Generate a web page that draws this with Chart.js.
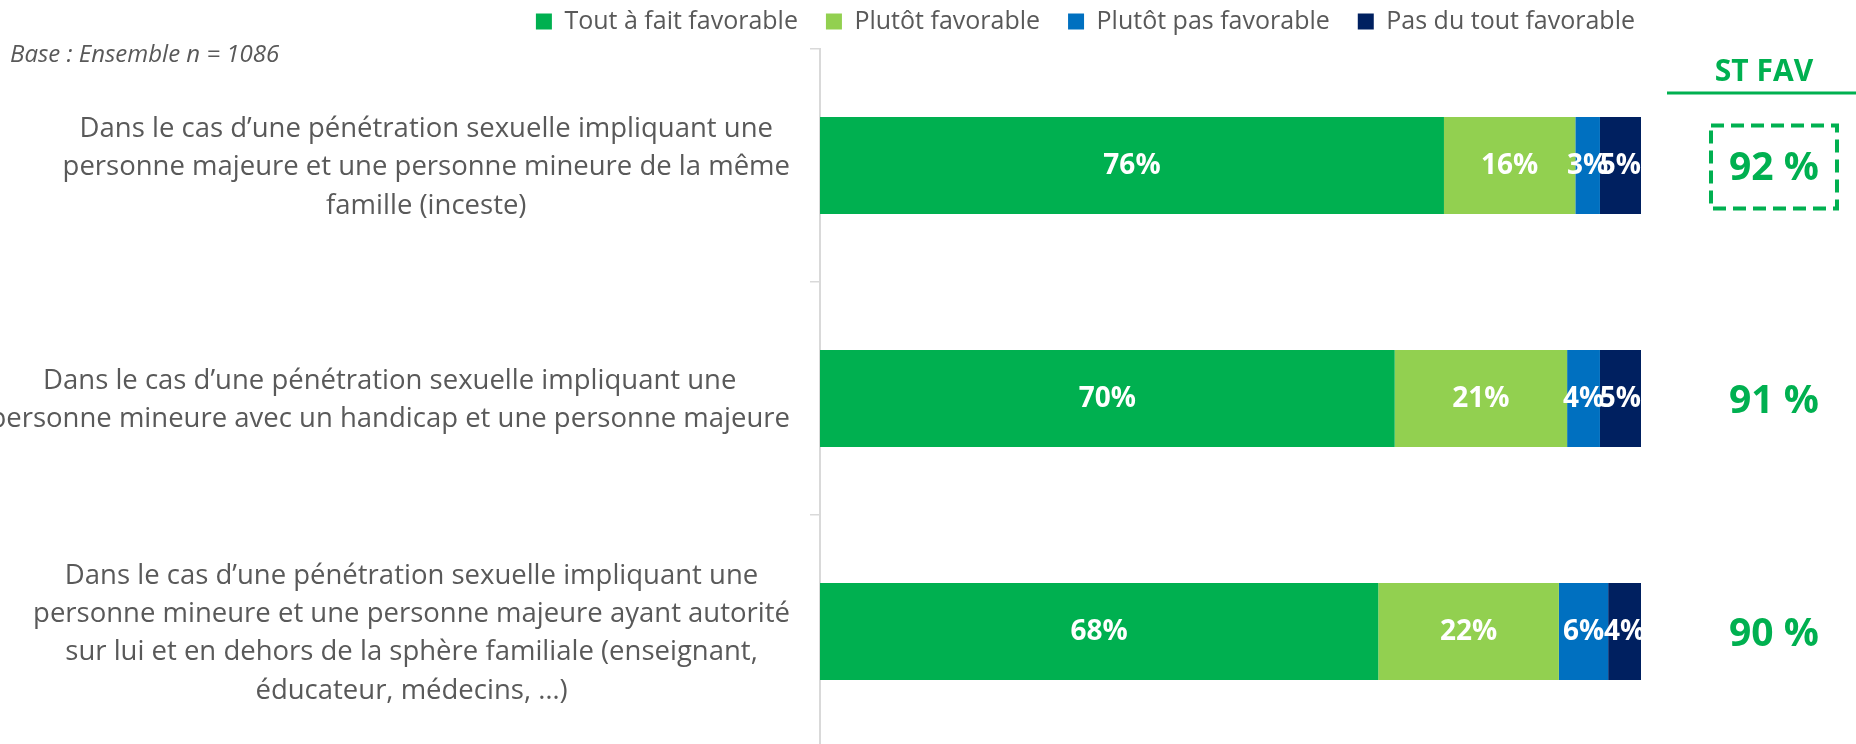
<!DOCTYPE html>
<html>
<head>
<meta charset="utf-8">
<title>ST FAV</title>
<script src="https://cdn.jsdelivr.net/npm/chart.js"></script>
<style>
  html, body { margin: 0; padding: 0; background: #fff; overflow: hidden; }
  #wrap { position: relative; width: 1856px; height: 752px; }
</style>
</head>
<body>
<div id="wrap"><canvas id="favChart"></canvas></div>
<script>
// categories (one array of lines per bar)
const categories = [
  ['Dans le cas d’une pénétration sexuelle impliquant une', 'personne majeure et une personne mineure de la même', 'famille (inceste)'],
  ['Dans le cas d’une pénétration sexuelle impliquant une', 'personne mineure avec un handicap et une personne majeure'],
  ['Dans le cas d’une pénétration sexuelle impliquant une', 'personne mineure et une personne majeure ayant autorité', 'sur lui et en dehors de la sphère familiale (enseignant,', 'éducateur, médecins, …)']
];
const seriesNames = ['Tout à fait favorable', 'Plutôt favorable', 'Plutôt pas favorable', 'Pas du tout favorable'];
const toutAFait = [76, 70, 68];
const plutotFav = [16, 21, 22];
const plutotPas = [3, 4, 6];
const pasDuTout = [5, 5, 4];
const stFav = [92, 91, 90];
const colors = ['#00B050', '#92D050', '#0070C0', '#002060'];
const baseNote = 'Base : Ensemble n = 1086';
const stFavTitle = 'ST FAV';

const FONT = '"Open Sans", "Noto Sans", sans-serif';
const GREY = '#595959';

// move the legend row after layout (vertical/horizontal fine tuning)
const legendShift = {
  id: 'legendShift',
  afterLayout(chart) {
    const lg = chart.legend;
    lg.top -= 5; lg.bottom -= 5;
    lg.left += 22; lg.right += 22;
  }
};

// white percentages inside the segments
const barLabels = {
  id: 'barLabels',
  afterDatasetsDraw(chart) {
    const ctx = chart.ctx;
    ctx.save();
    ctx.font = 'bold 28px ' + FONT;
    ctx.fillStyle = '#fff';
    ctx.textAlign = 'center';
    ctx.textBaseline = 'middle';
    chart.data.datasets.forEach((ds, di) => {
      chart.getDatasetMeta(di).data.forEach((bar, i) => {
        ctx.fillText(ds.data[i] + '%', (bar.x + bar.base) / 2, bar.y + 1);
      });
    });
    ctx.restore();
  }
};

// category text, base note, ST FAV column
const extras = {
  id: 'extras',
  afterDraw(chart) {
    const ctx = chart.ctx;
    const y = chart.scales.y;
    ctx.save();

    ctx.font = '27.5px ' + FONT;
    ctx.fillStyle = GREY;
    ctx.textAlign = 'center';
    ctx.textBaseline = 'middle';
    const right = y.right - 30;
    categories.forEach((lines, i) => {
      const cy = y.getPixelForValue(i) + 2;
      const widest = Math.max(...lines.map(l => ctx.measureText(l).width));
      const cx = right - widest / 2;
      lines.forEach((l, k) => ctx.fillText(l, cx, cy + (k - (lines.length - 1) / 2) * 38.3));
    });

    ctx.font = 'italic 24px ' + FONT;
    ctx.textAlign = 'left';
    ctx.fillText(baseNote, 10, 55);

    // ST FAV header
    ctx.fillStyle = '#00B050';
    ctx.strokeStyle = '#00B050';
    ctx.font = 'bold 30px ' + FONT;
    ctx.textAlign = 'center';
    ctx.fillText(stFavTitle, 1764, 72);
    ctx.lineWidth = 3;
    ctx.beginPath();
    ctx.moveTo(1667, 93);
    ctx.lineTo(1856, 93);
    ctx.stroke();

    ctx.font = 'bold 39px ' + FONT;
    stFav.forEach((v, i) => {
      const cy = y.getPixelForValue(i);
      ctx.fillText(v + ' %', 1774, cy + 3);
    });
    // dashed frame round the first total
    const c0 = y.getPixelForValue(0);
    ctx.lineWidth = 4;
    ctx.setLineDash([13, 7]);
    ctx.strokeRect(1711, c0 - 40, 126, 83);
    ctx.setLineDash([]);
    ctx.restore();
  }
};

const ctx = document.getElementById('favChart').getContext('2d');
new Chart(ctx, {
  type: 'bar',
  data: {
    labels: categories,
    datasets: [
      { label: seriesNames[0], data: toutAFait, backgroundColor: colors[0] },
      { label: seriesNames[1], data: plutotFav, backgroundColor: colors[1] },
      { label: seriesNames[2], data: plutotPas, backgroundColor: colors[2] },
      { label: seriesNames[3], data: pasDuTout, backgroundColor: colors[3] }
    ]
  },
  options: {
    indexAxis: 'y',
    responsive: true,
    maintainAspectRatio: false,
    animation: false,
    categoryPercentage: 1,
    barPercentage: 0.416,
    layout: { padding: { top: -14, right: 215, bottom: 4, left: 0 } },
    plugins: {
      legend: {
        position: 'top',
        align: 'end',
        labels: {
          boxWidth: 16, boxHeight: 16, padding: 28, color: GREY,
          font: { family: FONT, size: 25 }
        }
      },
      tooltip: { enabled: false }
    },
    scales: {
      x: { stacked: true, min: 0, max: 100, display: false },
      y: {
        stacked: true,
        position: 'left',
        ticks: { display: false },
        grid: { drawOnChartArea: false, drawTicks: true, tickLength: 10, color: '#d9d9d9', lineWidth: 1.5, offset: true },
        border: { color: '#d9d9d9', width: 2 },
        afterFit(s) { s.width = 820; }
      }
    }
  },
  plugins: [legendShift, barLabels, extras]
});
</script>
</body>
</html>
